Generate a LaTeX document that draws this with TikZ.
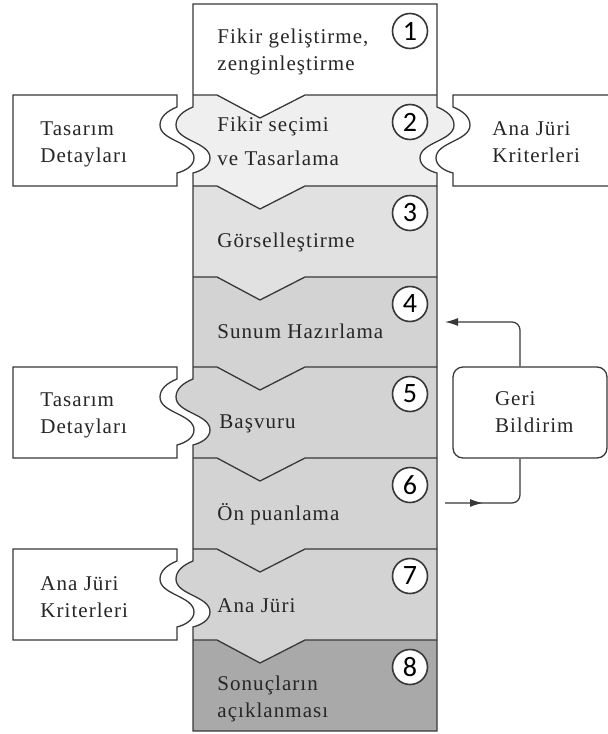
\documentclass[tikz,border=0pt]{standalone}
\usepackage{fontspec}
\setmainfont{Liberation Serif}[LetterSpace=5]
\newfontfamily\numfont{Carlito}
\usetikzlibrary{
  arrows.meta,
  decorations.markings
}

\definecolor{lineg}{HTML}{383838}
\definecolor{rowb}{HTML}{EFEFEF}
\definecolor{rowc}{HTML}{E1E1E1}
\definecolor{rowd}{HTML}{D3D3D3}
\definecolor{rowh}{HTML}{A9A9A9}

% puzzle edge, going down / up, #1 = x, #2 = row top, #3 = side
\newcommand\tabdn[3]{-- (#1,#2+12)
  .. controls (#1-10*#3,#2+16) and (#1-17*#3,#2+22) .. (#1-17*#3,#2+30)
  .. controls (#1-17*#3,#2+46) and (#1+17*#3,#2+47) .. (#1+17*#3,#2+63)
  .. controls (#1+17*#3,#2+71) and (#1+8*#3,#2+76) .. (#1,#2+78)}
\newcommand\tabup[3]{-- (#1,#2+78)
  .. controls (#1+8*#3,#2+76) and (#1+17*#3,#2+71) .. (#1+17*#3,#2+63)
  .. controls (#1+17*#3,#2+47) and (#1-17*#3,#2+46) .. (#1-17*#3,#2+30)
  .. controls (#1-17*#3,#2+22) and (#1-10*#3,#2+16) .. (#1,#2+12)}
\newcommand\colpath{(193,4) -- (437,4) \tabdn{437}{95}{-1} -- (437,731)
  -- (193,731) \tabup{193}{549}{1} \tabup{193}{367}{1} \tabup{193}{95}{1} -- cycle}

\tikzset{
  rowline/.style={draw=lineg, line width=0.65pt},
  sidebox/.style={fill=white, draw=lineg, line width=0.65pt},
  steptext/.style={anchor=base west, align=left, inner sep=0pt,
    font=\fontsize{10.5}{13.5}\selectfont, text=black!85},
  numcirc/.style={circle, draw=lineg, fill=white, line width=0.8pt,
    minimum size=17.5pt, inner sep=0pt, font=\numfont\fontsize{14}{14}\selectfont},
  fbbox/.style={draw=lineg, line width=0.65pt, rounded corners=5pt, align=left,
    text width=35pt, inner xsep=21pt, minimum height=45.5pt,
    font=\fontsize{10.5}{13.5}\selectfont, text=black!85},
  fbline/.style={draw=lineg, line width=0.6pt, rounded corners=4pt},
  midarrow/.style={postaction=decorate, decoration={markings,
    mark=at position 19pt with {\arrow{Latex[length=6.5pt,width=4pt]}}}}
}

\begin{document}
\begin{tikzpicture}[x=0.5pt,y=-0.5pt]
\useasboundingbox (0,0) rectangle (608,734);

% rows
\begin{scope}
\clip \colpath;
\foreach \t/\b/\c in {640/731/rowh, 549/640/rowd, 458/549/rowd, 367/458/rowd,
    277/367/rowd, 186/277/rowc, 95/186/rowb, 4/95/white}
  \fill[\c] (150,\t) -- (480,\t) -- (480,\b) -- (305,\b) -- (260,\b+23)
    -- (217,\b) -- (150,\b) -- cycle;
\end{scope}
\foreach \t in {95,186,277,367,458,549,640}
  \draw[rowline] (193,\t) -- (217,\t) -- (260,\t+23) -- (305,\t) -- (437,\t);
\draw[rowline] \colpath;

% side boxes
\foreach \t in {95,367,549}
  \draw[sidebox] (13,\t) -- (177,\t) \tabdn{177}{\t}{1} -- (177,\t+91)
    -- (13,\t+91) -- cycle;
\draw[sidebox] (620,95) -- (453,95) \tabdn{453}{95}{-1} -- (453,186) -- (620,186);

\foreach \i/\t in {1/4,2/95,3/186,4/277,5/367,6/458,7/549,8/640}
  \node[numcirc] (n\i) at (410,\t+27) {\i};

\node[steptext] (s1) at (217,70) {Fikir geliştirme,\\zenginleştirme};
\node[steptext, font=\fontsize{10.5}{17}\selectfont] (s2) at (217,165)
  {Fikir seçimi\\ve Tasarlama};
\node[steptext] (s3) at (217,247) {Görselleştirme};
\node[steptext] (s4) at (217,338) {Sunum Hazırlama};
\node[steptext] (s5) at (219,428) {Başvuru};
\node[steptext] (s6) at (217,520) {Ön puanlama};
\node[steptext] (s7) at (217,612) {Ana Jüri};
\node[steptext] (s8) at (217,717) {Sonuçların\\açıklanması};

\node[steptext] (tasa) at (40,162) {Tasarım\\Detayları};
\node[steptext] (krita) at (492,162) {Ana Jüri\\Kriterleri};
\node[steptext] (tasb) at (40,433) {Tasarım\\Detayları};
\node[steptext] (kritb) at (40,617) {Ana Jüri\\Kriterleri};

% feedback
\node[fbbox] (geri) at (530,412.5) {Geri\\Bildirim};
\coordinate (fbin) at (445,322);
\coordinate (fbout) at (445,503);
\draw[fbline, -{Latex[length=6.5pt,width=4pt]}] ([xshift=-5pt]geri.north) |- (fbin);
\draw[fbline, midarrow] (fbout) -| ([xshift=-5pt]geri.south);
\end{tikzpicture}
\end{document}
